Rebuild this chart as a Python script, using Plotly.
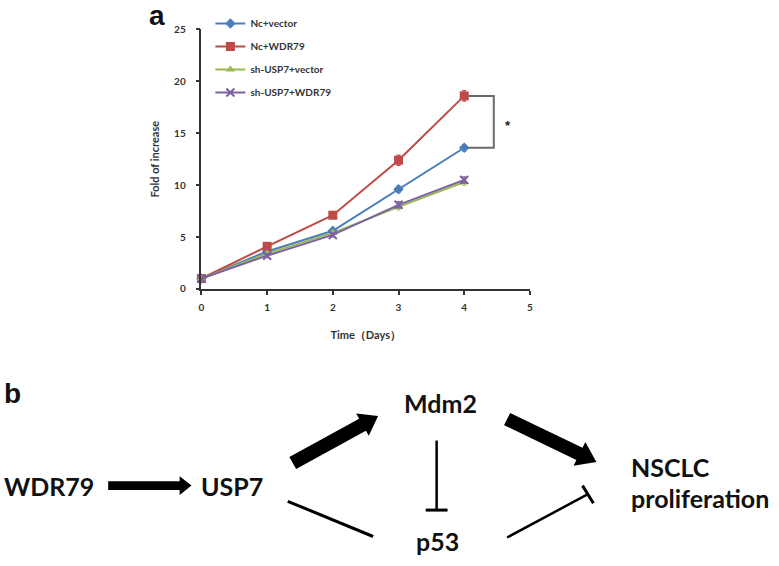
import math
import plotly.graph_objects as go

W, H = 779, 566

# ---------------- data ----------------
days = [0, 1, 2, 3, 4]
series_names = ["Nc+vector", "Nc+WDR79", "sh-USP7+vector", "sh-USP7+WDR79"]
nc_vector = [1.0, 3.6, 5.6, 9.6, 13.6]
nc_wdr79 = [1.0, 4.1, 7.1, 12.4, 18.6]
sh_vector = [1.0, 3.4, 5.4, 7.9, 10.3]
sh_wdr79 = [1.0, 3.2, 5.2, 8.1, 10.5]
err_nc_vector = [0.2, 0.2, 0.2, 0.3, 0.3]
err_nc_wdr79 = [0.2, 0.3, 0.2, 0.5, 0.5]
err_sh_vector = [0.2, 0.2, 0.2, 0.3, 0.3]
err_sh_wdr79 = [0.2, 0.2, 0.2, 0.3, 0.3]
x_ticks = [0, 1, 2, 3, 4, 5]
y_ticks = [0, 5, 10, 15, 20, 25]

colors = ["#4A7EBB", "#BE4B48", "#98B954", "#7D60A0"]
symbols = ["diamond", "square", "triangle-up", "x-thin"]
sizes = [8, 9, 8, 8]
values = [nc_vector, nc_wdr79, sh_vector, sh_wdr79]
errors = [err_nc_vector, err_nc_wdr79, err_sh_vector, err_sh_wdr79]

fig = go.Figure()
for i, name in enumerate(series_names):
    marker = dict(symbol=symbols[i], size=sizes[i], color=colors[i])
    if symbols[i] == "x-thin":
        marker["line"] = dict(color=colors[i], width=2)
    fig.add_trace(go.Scatter(
        x=days, y=values[i], name=name, mode="lines+markers",
        line=dict(color=colors[i], width=2), marker=marker,
        error_y=dict(type="data", array=errors[i], color=colors[i], thickness=1.2, width=2),
        cliponaxis=False, legendgroup=name,
    ))

# ------------- helpers for pixel geometry -------------
def px(x):
    return x / W

def py(y):
    return 1 - y / H

def arrow_path(x0, y0, x1, y1, shaft, head_w, head_l):
    dx, dy = x1 - x0, y1 - y0
    L = math.hypot(dx, dy)
    ux, uy = dx / L, dy / L
    nx, ny = -uy, ux
    bx, by = x1 - ux * head_l, y1 - uy * head_l
    pts = [
        (x0 + nx * shaft / 2, y0 + ny * shaft / 2),
        (bx + nx * shaft / 2, by + ny * shaft / 2),
        (bx + nx * head_w / 2, by + ny * head_w / 2),
        (x1, y1),
        (bx - nx * head_w / 2, by - ny * head_w / 2),
        (bx - nx * shaft / 2, by - ny * shaft / 2),
        (x0 - nx * shaft / 2, y0 - ny * shaft / 2),
    ]
    s = "M " + " L ".join(f"{px(a):.5f},{py(b):.5f}" for a, b in pts) + " Z"
    return s

shapes = []
# significance bracket between Nc+WDR79 and Nc+vector at day 4
bx_data = 4.45
shapes.append(dict(
    type="path", xref="x", yref="y",
    path=f"M {days[4]},{nc_wdr79[4]} L {bx_data},{nc_wdr79[4]} L {bx_data},{nc_vector[4]} L {days[4]},{nc_vector[4]}",
    line=dict(color="#6b6b6b", width=2), layer="below",
))

# diagram arrows (filled)
for (x0, y0, x1, y1, s, hw, hl) in [
    (106, 490, 190, 490, 9, 19, 12),
    (292, 467, 378, 419, 14, 26, 18),
    (508, 422, 598, 466, 14, 27, 19),
]:
    shapes.append(dict(type="path", xref="paper", yref="paper",
                       path=arrow_path(x0, y0, x1, y1, s, hw, hl),
                       fillcolor="black", line=dict(width=0)))

def seg(x0, y0, x1, y1, w):
    shapes.append(dict(type="line", xref="paper", yref="paper",
                       x0=px(x0), y0=py(y0), x1=px(x1), y1=py(y1),
                       line=dict(color="black", width=w)))

# Mdm2 -| p53
seg(437, 444, 437, 515, 2.5)
seg(426, 515, 448, 515, 3)
# USP7 — p53
seg(287, 506, 373, 542, 3)
# p53 -| NSCLC proliferation
seg(508, 543, 589, 499, 2.5)
seg(584, 490, 595, 508, 3)

annotations = []
annotations.append(dict(x=4.66, y=(nc_wdr79[4] + nc_vector[4]) / 2, xref="x", yref="y",
                        text="<b>*</b>", showarrow=False, yshift=-4,
                        font=dict(family="Liberation Sans", size=13, color="#222")))

def label(x, y, text, size=25, xanchor="center", family="Lato"):
    annotations.append(dict(x=px(x), y=py(y), xref="paper", yref="paper",
                            text=text, showarrow=False, xanchor=xanchor, yanchor="middle",
                            font=dict(family=family, size=size, color="#111")))

label(155, 10, "<b>a</b>", size=28, family="Liberation Sans")
label(10, 396, "<b>b</b>", size=28, family="Liberation Sans")
label(46, 490, "<b>WDR79</b>")
label(231, 490, "<b>USP7</b>")
label(441, 406, "<b>Mdm2</b>")
label(438, 547, "<b>p53</b>")
label(631, 471, "<b>NSCLC</b>", xanchor="left")
label(631, 503, "<b>proliferation</b>", xanchor="left")

fig.update_layout(
    width=W, height=H, autosize=False,
    margin=dict(l=0, r=0, t=0, b=0, pad=0),
    paper_bgcolor="white", plot_bgcolor="white",
    showlegend=True,
    legend=dict(x=px(209), y=py(3), xanchor="left", yanchor="top",
                font=dict(family="Lato", size=10, color="#333", weight="bold"),
                bgcolor="rgba(0,0,0,0)", itemwidth=30, tracegroupgap=4),
    xaxis=dict(domain=[px(200), px(531)], range=[0, 5], tickvals=x_ticks,
               showgrid=False, zeroline=False, showline=True, linecolor="#333", linewidth=1.5,
               ticks="outside", ticklen=4, tickcolor="#333", tickwidth=1.5, ticklabelstandoff=4,
               tickfont=dict(family="Lato", size=10, color="#333", weight="bold"),
               title=dict(text="<b>Time（Days）</b>", font=dict(family="Lato", size=11, color="#333"), standoff=20)),
    yaxis=dict(domain=[1 - 289 / H, 1 - 24 / H], range=[0, 25], tickvals=y_ticks,
               showgrid=False, zeroline=False, showline=True, linecolor="#333", linewidth=1.5,
               ticks="outside", ticklen=4, tickcolor="#333", tickwidth=1.5, ticklabelstandoff=8,
               tickfont=dict(family="Lato", size=10, color="#333", weight="bold"),
               title=dict(text="<b>Fold of increase</b>", font=dict(family="Lato", size=11, color="#333"), standoff=12)),
    shapes=shapes, annotations=annotations,
)

fig.write_html("out.html", config={"displayModeBar": False},
               post_script="document.body.style.margin='0';")
